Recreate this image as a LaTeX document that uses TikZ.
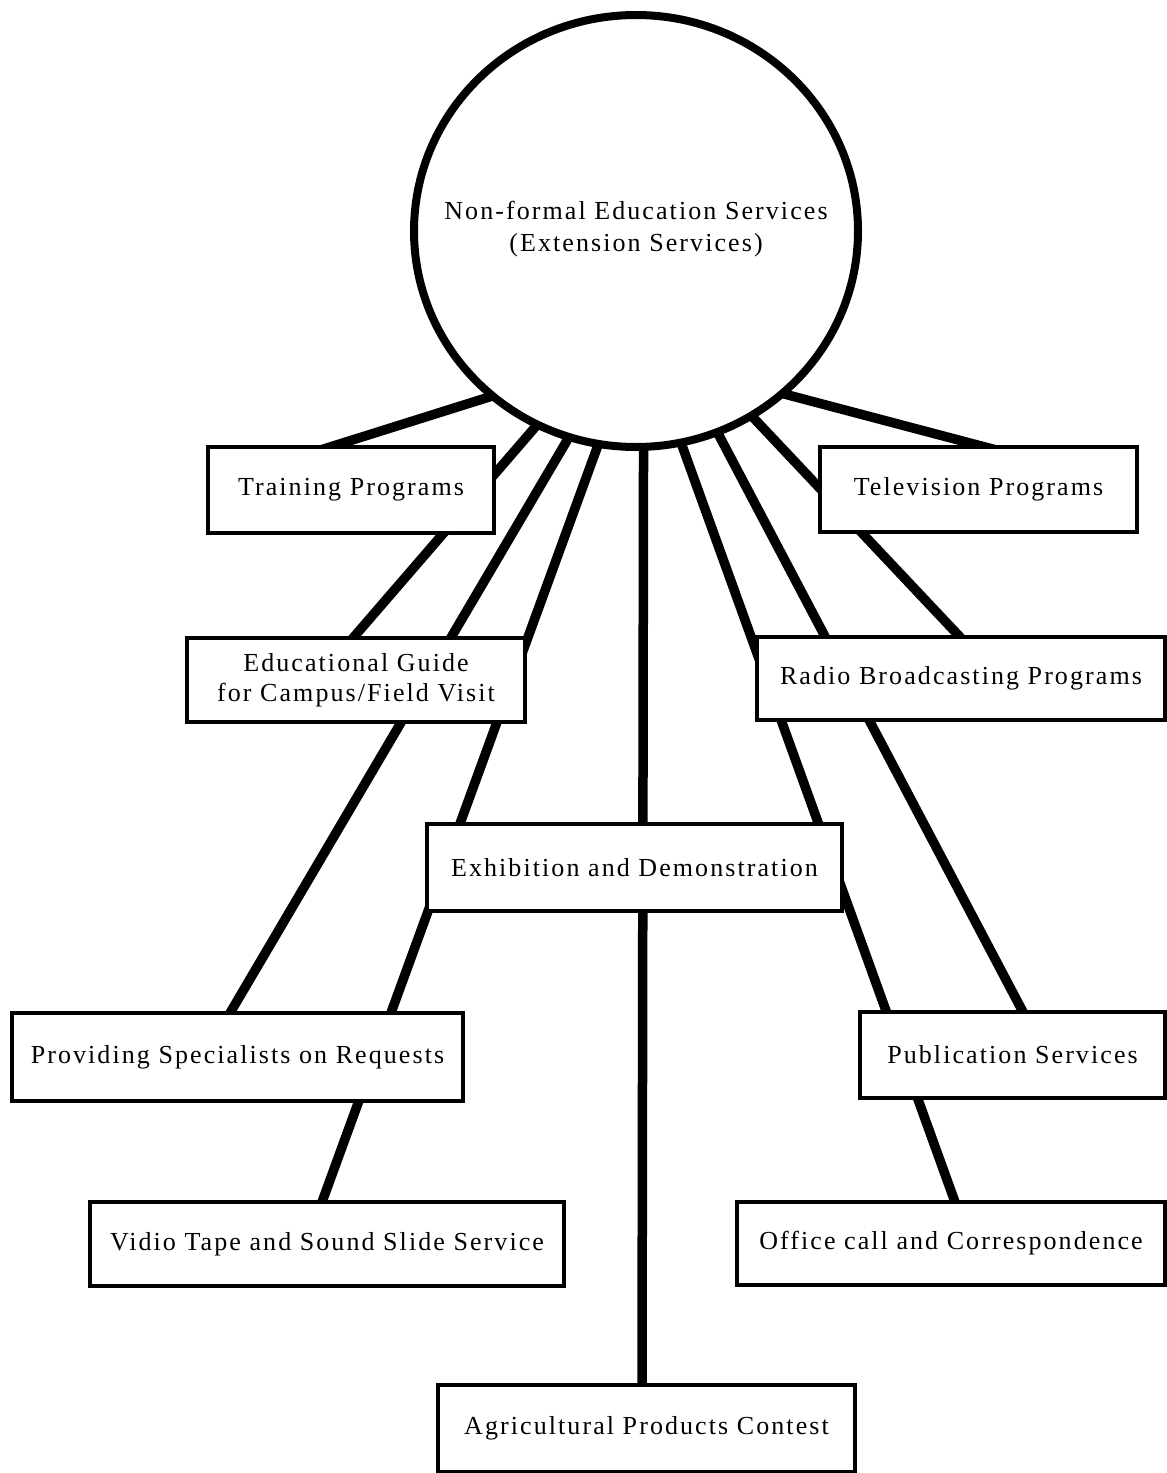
\documentclass[tikz,border=0pt]{standalone}
\usepackage{fontspec}
\setmainfont{Liberation Serif}[LetterSpace=8]
\usetikzlibrary{backgrounds,calc,shapes.geometric}
\begin{document}
\begin{tikzpicture}[x=1pt,y=-1pt,
  hubshape/.style={ellipse, draw, line width=8pt, fill=white,
    minimum width=444pt, minimum height=432pt, inner sep=0pt, outer sep=0pt},
  hubtext/.style={font=\fontsize{26pt}{32pt}\selectfont, align=center, inner sep=0pt},
  box/.style={draw, line width=3.5pt, fill=white, inner sep=0pt, outer sep=0pt,
    font=\fontsize{26pt}{30pt}\selectfont, align=center},
  conn/.style={line width=9.5pt, shorten <=-10pt, shorten >=-10pt}
]
\useasboundingbox (0,0) rectangle (1167,1473);

% central hub
\node[hubshape] (hub) at (636,231) {};
\node[hubtext] (hubtxt) at (636,229) {Non-formal Education Services\\(Extension Services)};

% service boxes
\node[box, minimum width=286pt, minimum height=86pt] (train)  at (351,490)    {Training Programs};
\node[box, minimum width=338pt, minimum height=84pt] (guide)  at (356,680)    {Educational Guide\\for Campus/Field Visit};
\node[box, minimum width=317pt, minimum height=85pt] (tv)     at (978.5,489.5){Television Programs};
\node[box, minimum width=408pt, minimum height=83pt] (radio)  at (961,678.5)  {Radio Broadcasting Programs};
\node[box, minimum width=415pt, minimum height=87pt] (exhib)  at (634.5,867.5){Exhibition and Demonstration};
\node[box, minimum width=451pt, minimum height=88pt] (prov)   at (237.5,1057) {Providing Specialists on Requests};
\node[box, minimum width=305pt, minimum height=86pt] (pub)    at (1012.5,1055){Publication Services};
\node[box, minimum width=474pt, minimum height=84pt] (vidio)  at (327,1244)   {Vidio Tape and Sound Slide Service};
\node[box, minimum width=428pt, minimum height=83pt] (office) at (951,1243.5) {Office call and Correspondence};
\node[box, minimum width=417pt, minimum height=87pt] (agri)   at (646.5,1428.5){Agricultural Products Contest};

% connectors run behind the boxes
\begin{scope}[on background layer]
  \fill[white] (0,0) rectangle (1167,1473);
  \draw[conn] (hub.-131)   -- ([xshift=122pt]train.north west);
  \draw[conn] (hub.-117)   -- ([xshift=166pt]guide.north west);
  \draw[conn] (hub.-108)   -- ([xshift=218pt]prov.north west);
  \draw[conn] (hub.-100)   -- ([xshift=232pt]vidio.north west);
  \draw[conn] (hub.-88.4)  -- ([xshift=204pt]agri.north west);
  \draw[conn] (hub.-78.8)  -- ([xshift=218pt]office.north west);
  \draw[conn] (hub.-68.3)  -- ([xshift=163pt]pub.north west);
  \draw[conn] (hub.-58.2)  -- ([xshift=203pt]radio.north west);
  \draw[conn] (hub.-48.8)  -- ([xshift=165pt]tv.north west);
\end{scope}
\end{tikzpicture}
\end{document}
